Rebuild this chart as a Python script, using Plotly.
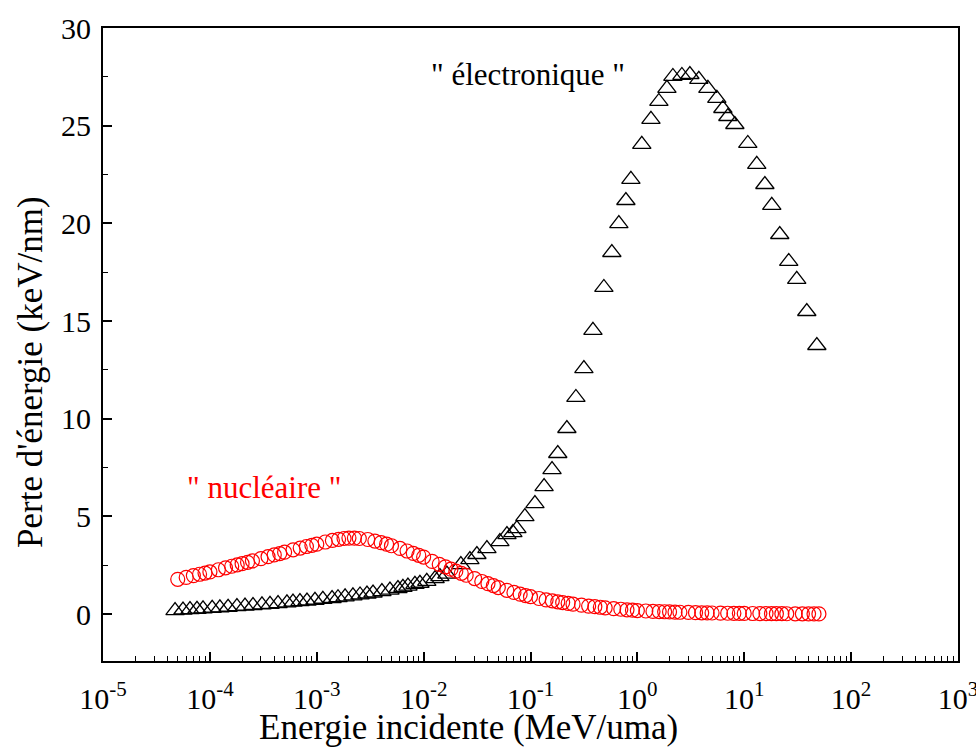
import plotly.graph_objects as go

# ---------------- data ----------------
# Electronic stopping (triangles): energy (MeV/uma), loss (keV/nm)
e_energy = [4.72e-5, 5.60e-5, 6.51e-5, 7.57e-5, 8.62e-5, 1.05e-4, 1.24e-4, 1.48e-4, 1.79e-4, 2.13e-4,
            2.53e-4, 3.07e-4, 3.65e-4, 4.34e-4, 5.26e-4, 5.99e-4, 6.96e-4, 8.10e-4, 9.62e-4, 1.14e-3,
            1.39e-3, 1.58e-3, 1.84e-3, 2.18e-3, 2.54e-3, 2.95e-3, 3.36e-3, 4.07e-3, 4.84e-3, 5.75e-3,
            6.40e-3, 7.13e-3, 8.29e-3, 9.23e-3, 1.07e-2, 1.28e-2, 1.42e-2, 1.65e-2, 2.23e-2, 2.71e-2,
            3.15e-2, 3.91e-2, 5.17e-2, 6.02e-2, 6.84e-2, 7.46e-2, 8.86e-2, 0.110, 0.134, 0.159,
            0.180, 0.219, 0.266, 0.316, 0.384, 0.486, 0.577, 0.671, 0.781, 0.870,
            1.10, 1.34, 1.59, 1.89, 2.15, 2.61, 3.10, 3.76, 4.57, 5.54,
            6.31, 7.03, 8.17, 10.8, 13.1, 15.6, 18.1, 21.5, 26.1, 31.0,
            38.5, 47.8]
e_loss = [0.18, 0.21, 0.23, 0.25, 0.27, 0.30, 0.32, 0.35, 0.38, 0.41,
          0.44, 0.47, 0.50, 0.54, 0.58, 0.61, 0.64, 0.67, 0.71, 0.76,
          0.80, 0.84, 0.88, 0.93, 0.98, 1.03, 1.08, 1.15, 1.23, 1.31,
          1.37, 1.43, 1.52, 1.58, 1.68, 1.82, 1.92, 2.05, 2.53, 2.79,
          3.05, 3.35, 3.71, 4.07, 4.17, 4.38, 4.99, 5.66, 6.53, 7.40,
          8.22, 9.50, 11.09, 12.57, 14.52, 16.72, 18.51, 19.99, 21.17, 22.25,
          24.04, 25.32, 26.24, 26.91, 27.52, 27.57, 27.62, 27.37, 26.91, 26.40,
          25.88, 25.47, 25.06, 24.09, 23.02, 21.99, 20.92, 19.43, 18.05, 17.13,
          15.49, 13.75]

# Nuclear stopping (circles)
n_energy = [5e-5, 6e-5, 7e-5, 8e-5, 9e-5,
            1e-4, 1.2e-4, 1.4e-4, 1.6e-4, 1.8e-4, 2e-4, 2.25e-4, 2.5e-4, 3e-4, 3.5e-4, 4e-4, 4.5e-4, 5e-4, 6e-4, 7e-4, 8e-4, 9e-4,
            1e-3, 1.2e-3, 1.4e-3, 1.6e-3, 1.8e-3, 2e-3, 2.25e-3, 2.5e-3, 3e-3, 3.5e-3, 4e-3, 4.5e-3, 5e-3, 6e-3, 7e-3, 8e-3, 9e-3,
            1e-2, 1.2e-2, 1.4e-2, 1.6e-2, 1.8e-2, 2e-2, 2.25e-2, 2.5e-2, 3e-2, 3.5e-2, 4e-2, 4.5e-2, 5e-2, 6e-2, 7e-2, 8e-2, 9e-2,
            0.1, 0.12, 0.14, 0.16, 0.18, 0.2, 0.225, 0.25, 0.3, 0.35, 0.4, 0.45, 0.5, 0.6, 0.7, 0.8, 0.9,
            1.0, 1.2, 1.4, 1.6, 1.8, 2.0, 2.25, 2.5, 3.0, 3.5, 4.0, 4.5, 5.0, 6.0, 7.0, 8.0, 9.0,
            10, 12, 14, 16, 18, 20, 22.5, 25, 30, 35, 40, 45, 50]
n_loss = [1.78, 1.88, 1.97, 2.04, 2.10,
          2.16, 2.27, 2.37, 2.45, 2.52, 2.58, 2.65, 2.72, 2.84, 2.94, 3.03, 3.10, 3.17, 3.29, 3.38, 3.46, 3.52,
          3.58, 3.69, 3.77, 3.83, 3.87, 3.89, 3.89, 3.87, 3.82, 3.74, 3.66, 3.58, 3.50, 3.36, 3.23, 3.11, 3.01,
          2.92, 2.70, 2.55, 2.42, 2.30, 2.20, 2.09, 1.99, 1.82, 1.67, 1.56, 1.46, 1.36, 1.22, 1.11, 1.02, 0.95,
          0.89, 0.80, 0.73, 0.68, 0.63, 0.59, 0.55, 0.51, 0.46, 0.41, 0.38, 0.35, 0.32, 0.28, 0.25, 0.22, 0.20,
          0.18, 0.16, 0.14, 0.13, 0.12, 0.11, 0.10, 0.095, 0.085, 0.075, 0.068, 0.062, 0.057, 0.050, 0.045, 0.041, 0.038,
          0.035, 0.031, 0.028, 0.026, 0.024, 0.022, 0.020, 0.019, 0.016, 0.015, 0.013, 0.012, 0.011]

x_tick_vals = [1e-5, 1e-4, 1e-3, 1e-2, 1e-1, 1e0, 1e1, 1e2, 1e3]
x_tick_text = ["10<sup>-5</sup>", "10<sup>-4</sup>", "10<sup>-3</sup>", "10<sup>-2</sup>",
               "10<sup>-1</sup>", "10<sup>0</sup>", "10<sup>1</sup>", "10<sup>2</sup>", "10<sup>3</sup>"]
y_tick_vals = [0, 5, 10, 15, 20, 25, 30]

x_title = "Energie incidente (MeV/uma)"
y_title = "Perte d'énergie (keV/nm)"
label_e = "\" électronique \""
label_n = "\" nucléaire \""

# minor tick positions (axis decoration)
x_minor = [m * 10 ** k for k in range(-5, 3) for m in range(2, 10)]
y_minor = [2.5 + 5 * i for i in range(-1, 6)]

FONT = "Liberation Serif"

fig = go.Figure()
fig.add_trace(go.Scatter(
    x=e_energy, y=e_loss, mode="markers", name="électronique",
    marker=dict(symbol="triangle-up-open", size=16, color="black", line=dict(width=1.3, color="black")),
))
fig.add_trace(go.Scatter(
    x=n_energy, y=n_loss, mode="markers", name="nucléaire",
    marker=dict(symbol="circle-open", size=14, color="red", line=dict(width=1.2, color="red")),
))

fig.update_layout(
    width=976, height=751,
    margin=dict(l=103, r=18, t=28, b=90, autoexpand=False),
    paper_bgcolor="white", plot_bgcolor="white",
    showlegend=False,
    font=dict(family=FONT, color="black", size=30),
)
fig.update_xaxes(
    type="log", range=[-5.0004, 3.0004], automargin=False,
    tickmode="array", tickvals=x_tick_vals, ticktext=x_tick_text,
    ticks="inside", ticklen=9, tickwidth=1.5, tickcolor="black",
    showline=True, linewidth=2, linecolor="black", mirror=True,
    showgrid=False, zeroline=False,
    tickfont=dict(family=FONT, size=30, color="black"),
    ticklabelstandoff=10, ticklabeloverflow="allow",
    minor=dict(tickmode="array", tickvals=x_minor, ticks="inside", ticklen=5,
               tickwidth=1.2, tickcolor="black", showgrid=False),
)
fig.update_yaxes(
    range=[-2.4, 30], automargin=False,
    tickmode="array", tickvals=y_tick_vals,
    ticks="inside", ticklen=9, tickwidth=1.5, tickcolor="black",
    showline=True, linewidth=2, linecolor="black", mirror=True,
    showgrid=False, zeroline=False,
    tickfont=dict(family=FONT, size=30, color="black"),
    ticklabelstandoff=4,
    minor=dict(tickmode="array", tickvals=y_minor, ticks="inside", ticklen=5,
               tickwidth=1.2, tickcolor="black", showgrid=False),
)

fig.add_annotation(text=x_title, xref="paper", yref="paper", x=(468 - 103) / 855, y=(661 - 727) / 633,
                   showarrow=False, font=dict(family=FONT, size=35, color="black"),
                   xanchor="center", yanchor="middle")
fig.add_annotation(text=y_title, xref="paper", yref="paper", x=(30 - 103) / 855, y=(661 - 372) / 633,
                   showarrow=False, textangle=-90, font=dict(family=FONT, size=35, color="black"),
                   xanchor="center", yanchor="middle")
fig.add_annotation(text=label_e, xref="paper", yref="paper", x=(528 - 103) / 855, y=(661 - 75) / 633,
                   showarrow=False, font=dict(family=FONT, size=31, color="black"),
                   xanchor="center", yanchor="middle")
fig.add_annotation(text=label_n, xref="paper", yref="paper", x=(264 - 103) / 855, y=(661 - 487) / 633,
                   showarrow=False, font=dict(family=FONT, size=31, color="red"),
                   xanchor="center", yanchor="middle")

fig.write_html("out.html")
